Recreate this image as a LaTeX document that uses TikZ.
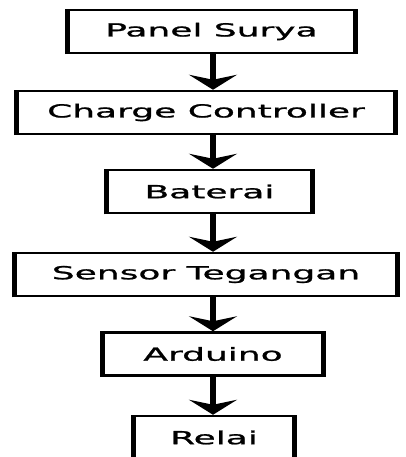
\documentclass[tikz,border=0pt]{standalone}
\usepackage{fontspec}
\newfontfamily\boxfont[FakeStretch=2.0, FakeBold=1.2]{DejaVu Sans}
\usetikzlibrary{arrows.meta}

\begin{document}
\begin{tikzpicture}[
    x=1pt, y=-1pt,
    blockbox/.style={draw=black, line width=2.5pt, minimum height=43pt, inner sep=0pt,
        font=\boxfont\fontsize{18}{20}\selectfont},
    flow/.style={line width=6pt, -{Stealth[width=48pt, length=15pt, inset=5pt]}}
]
\useasboundingbox (0,0) rectangle (406,457);
\fill[white] (0,0) rectangle (406,457);

% Boxes
\node[blockbox, minimum width=285pt] (surya)   at (211.5,31.5) {Panel Surya};
\node[blockbox, minimum width=376pt] (charge)  at (206,112.5)  {Charge Controller};
\node[blockbox, minimum width=203pt] (baterai) at (209.5,191.5) {Baterai};
\node[blockbox, minimum width=380pt] (sensor)  at (206,274.5)  {Sensor Tegangan};
\node[blockbox, minimum width=218pt] (arduino) at (213,354)    {Arduino};
\node[blockbox, minimum width=158pt] (relai)   at (214,437.5)  {Relai};

% Thick sides
\foreach \n in {surya,charge,baterai,sensor,arduino,relai}
    \draw[line width=5pt] (\n.south west) -- (\n.north west) (\n.south east) -- (\n.north east);

% Arrows
\coordinate (spine) at (213,0);
\foreach \a/\b in {surya/charge,charge/baterai,baterai/sensor,sensor/arduino,arduino/relai}
    \draw[flow] (\a.south -| spine) -- (\b.north -| spine);

\end{tikzpicture}
\end{document}
